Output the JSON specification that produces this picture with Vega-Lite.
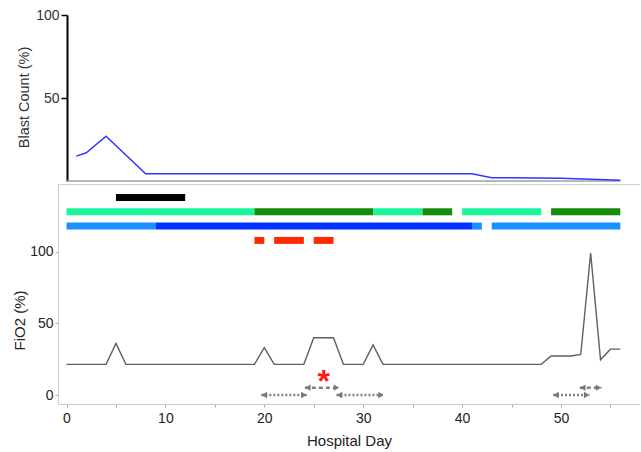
{
  "$schema": "https://vega.github.io/schema/vega-lite/v6.json",
  "padding": {"left": 12, "top": 8, "right": 0, "bottom": 2},
  "config": {
    "view": {"stroke": null},
    "font": "Liberation Sans",
    "axis": {"grid": false, "labelFont": "Liberation Sans", "titleFont": "Liberation Sans"}
  },
  "datasets": {
    "blast": [
      {"day": 1, "blast": 15}, {"day": 2, "blast": 17}, {"day": 4, "blast": 27},
      {"day": 8, "blast": 4.4}, {"day": 41, "blast": 4.4}, {"day": 43, "blast": 2},
      {"day": 50, "blast": 1.6}, {"day": 56, "blast": 0.4}
    ],
    "baseline": [{"from": 0, "to": 56, "level": 0}],
    "fio2": [
      {"day": 0, "fio2": 21.4}, {"day": 4, "fio2": 21.4}, {"day": 5, "fio2": 36}, {"day": 6, "fio2": 21.4},
      {"day": 19, "fio2": 21.4}, {"day": 20, "fio2": 33}, {"day": 21, "fio2": 21.4}, {"day": 24, "fio2": 21.4},
      {"day": 25, "fio2": 40}, {"day": 27, "fio2": 40}, {"day": 28, "fio2": 21.4}, {"day": 30, "fio2": 21.4},
      {"day": 31, "fio2": 35}, {"day": 32, "fio2": 21.4}, {"day": 48, "fio2": 21.4}, {"day": 49, "fio2": 27.2},
      {"day": 51, "fio2": 27.2}, {"day": 52, "fio2": 28.3}, {"day": 53, "fio2": 99}, {"day": 54, "fio2": 24.6},
      {"day": 55, "fio2": 32}, {"day": 56, "fio2": 32}
    ],
    "segments": [
      {"track": 1, "kind": "black", "start": 5, "end": 12},
      {"track": 2, "kind": "lightgreen", "start": 0, "end": 19},
      {"track": 2, "kind": "darkgreen", "start": 19, "end": 31},
      {"track": 2, "kind": "lightgreen", "start": 31, "end": 36},
      {"track": 2, "kind": "darkgreen", "start": 36, "end": 39},
      {"track": 2, "kind": "lightgreen", "start": 40, "end": 48},
      {"track": 2, "kind": "darkgreen", "start": 49, "end": 56},
      {"track": 3, "kind": "lightblue", "start": 0, "end": 9},
      {"track": 3, "kind": "darkblue", "start": 9, "end": 41},
      {"track": 3, "kind": "lightblue", "start": 41, "end": 42},
      {"track": 3, "kind": "lightblue", "start": 43, "end": 56},
      {"track": 4, "kind": "red", "start": 19, "end": 20},
      {"track": 4, "kind": "red", "start": 21, "end": 24},
      {"track": 4, "kind": "red", "start": 25, "end": 27}
    ],
    "arrows": [
      {"row": "lower", "start": 19.7, "end": 24.3},
      {"row": "lower", "start": 27.3, "end": 32.1},
      {"row": "lower", "start": 49.2, "end": 52.9},
      {"row": "upper", "start": 24.1, "end": 27.6},
      {"row": "upper", "start": 51.9, "end": 54.1}
    ],
    "star": [{"day": 26, "symbol": "*"}]
  },
  "spacing": 3,
  "bounds": "flush",
  "vconcat": [
    {
      "width": 582,
      "height": 166,
      "layer": [
        {
          "data": {"name": "baseline"},
          "mark": {"type": "rule", "color": "#a0a0a0", "strokeWidth": 1.5},
          "encoding": {
            "x": {"field": "from", "type": "quantitative", "scale": {"domain": [-0.86, 57.99], "nice": false, "zero": false}, "axis": null},
            "x2": {"field": "to"},
            "y": {"field": "level", "type": "quantitative"}
          }
        },
        {
          "data": {"name": "blast"},
          "mark": {"type": "line", "color": "#3434ff", "strokeWidth": 1.5},
          "encoding": {
            "x": {"field": "day", "type": "quantitative", "scale": {"domain": [-0.86, 57.99], "nice": false, "zero": false}, "axis": null},
            "y": {
              "field": "blast", "type": "quantitative",
              "scale": {"domain": [0, 100], "nice": false},
              "axis": {
                "values": [50, 100], "title": "Blast Count (%)", "offset": -9,
                "domainColor": "#000000", "domainWidth": 2, "tickColor": "#000000", "tickWidth": 1.5, "tickSize": 6,
                "labelFontSize": 14, "labelColor": "#333333", "labelPadding": 2,
                "titleFontSize": 14.5, "titleFontWeight": "normal", "titleColor": "#333333",
                "titleX": -43, "titleY": 82, "titleBaseline": "middle", "titleAlign": "center", "titleAngle": -90
              }
            }
          }
        }
      ]
    },
    {
      "spacing": 0,
      "bounds": "flush",
      "vconcat": [
        {
          "width": 582,
          "height": 62,
          "data": {"name": "segments"},
          "mark": {"type": "rule", "strokeWidth": 7, "strokeCap": "butt"},
          "encoding": {
            "x": {
              "field": "start", "type": "quantitative",
              "scale": {"domain": [-0.86, 57.99], "nice": false, "zero": false},
              "axis": {"orient": "top", "labels": false, "ticks": false, "title": null, "domainColor": "#d0d0d0"}
            },
            "x2": {"field": "end"},
            "y": {
              "field": "track", "type": "quantitative",
              "scale": {"domain": [0.056, 4.392], "nice": false, "zero": false, "reverse": true},
              "axis": {"labels": false, "ticks": false, "title": null, "domainColor": "#cccccc"}
            },
            "color": {
              "field": "kind", "type": "nominal",
              "scale": {"domain": ["black", "lightgreen", "darkgreen", "lightblue", "darkblue", "red"],
                        "range": ["#000000", "#1af59b", "#178c0b", "#1a8fff", "#0033ff", "#ff2a00"]},
              "legend": null
            }
          }
        },
        {
          "width": 582,
          "height": 158,
          "layer": [
            {
              "data": {"name": "fio2"},
              "mark": {"type": "line", "color": "#606060", "strokeWidth": 1.4},
              "encoding": {
                "x": {
                  "field": "day", "type": "quantitative",
                  "scale": {"domain": [-0.86, 57.99], "nice": false, "zero": false},
                  "axis": {
                    "values": [0, 5, 10, 15, 20, 25, 30, 35, 40, 45, 50, 55],
                    "labelExpr": "datum.value % 10 == 0 ? datum.label : ''",
                    "title": "Hospital Day",
                    "domainColor": "#cccccc", "tickColor": "#aaaaaa", "tickSize": 3,
                    "labelFontSize": 14, "labelColor": "#222222", "labelPadding": 4,
                    "titleFontSize": 15, "titleFontWeight": "normal", "titleColor": "#222222", "titlePadding": 8
                  }
                },
                "y": {
                  "field": "fio2", "type": "quantitative",
                  "scale": {"domain": [-6.28, 104], "nice": false, "zero": false},
                  "axis": {
                    "values": [0, 25, 50, 75, 100],
                    "labelExpr": "datum.value % 50 == 0 ? datum.label : ''",
                    "title": "FiO2 (%)",
                    "domainColor": "#cccccc", "tickColor": "#aaaaaa", "tickSize": 3,
                    "labelFontSize": 14, "labelColor": "#222222", "labelPadding": 2,
                    "titleFontSize": 15, "titleFontWeight": "normal", "titleColor": "#222222",
                    "titleX": -39, "titleY": 74, "titleBaseline": "middle", "titleAlign": "center", "titleAngle": -90
                  }
                }
              }
            },
            {
              "data": {"name": "arrows"},
              "transform": [{"filter": "datum.row == 'lower'"}],
              "layer": [
                {"mark": {"type": "rule", "color": "#808080", "strokeWidth": 2.5, "strokeDash": [2, 2]},
                 "encoding": {"x": {"field": "start", "type": "quantitative"}, "x2": {"field": "end"}, "y": {"datum": 0}}},
                {"mark": {"type": "point", "shape": "triangle-left", "filled": true, "size": 40, "color": "#777777", "opacity": 1, "xOffset": 3},
                 "encoding": {"x": {"field": "start", "type": "quantitative"}, "y": {"datum": 0}}},
                {"mark": {"type": "point", "shape": "triangle-right", "filled": true, "size": 40, "color": "#777777", "opacity": 1, "xOffset": -3},
                 "encoding": {"x": {"field": "end", "type": "quantitative"}, "y": {"datum": 0}}}
              ]
            },
            {
              "data": {"name": "arrows"},
              "transform": [{"filter": "datum.row == 'upper'"}],
              "layer": [
                {"mark": {"type": "rule", "color": "#808080", "strokeWidth": 2.5, "strokeDash": [4, 3]},
                 "encoding": {"x": {"field": "start", "type": "quantitative"}, "x2": {"field": "end"}, "y": {"datum": 5.1}}},
                {"mark": {"type": "point", "shape": "triangle-left", "filled": true, "size": 40, "color": "#777777", "opacity": 1, "xOffset": 3},
                 "encoding": {"x": {"field": "start", "type": "quantitative"}, "y": {"datum": 5.1}}},
                {"mark": {"type": "point", "shape": "triangle-right", "filled": true, "size": 40, "color": "#777777", "opacity": 1, "xOffset": -3},
                 "encoding": {"x": {"field": "end", "type": "quantitative"}, "y": {"datum": 5.1}}}
              ]
            },
            {
              "data": {"name": "star"},
              "mark": {"type": "text", "fontSize": 32, "fontWeight": "bold", "color": "#ff1a1a", "baseline": "alphabetic", "align": "center", "dy": -3},
              "encoding": {
                "x": {"field": "day", "type": "quantitative"},
                "y": {"datum": 0},
                "text": {"field": "symbol"}
              }
            }
          ]
        }
      ]
    }
  ]
}
